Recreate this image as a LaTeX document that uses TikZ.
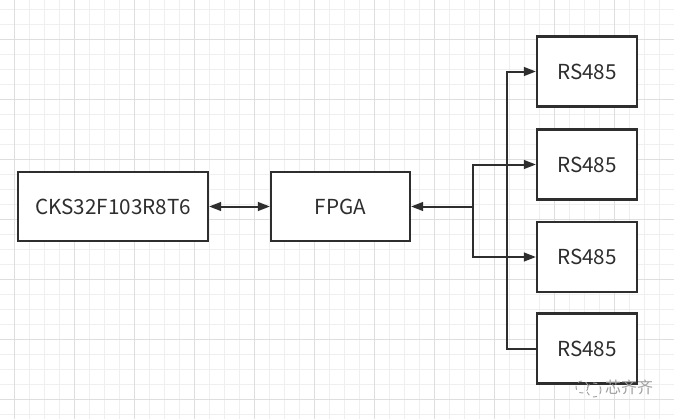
\documentclass[tikz,border=0pt]{standalone}
\usepackage{fontspec}
\setmainfont{Noto Sans CJK SC}
\usepackage{xcolor}
\usepackage{tikz}
\usetikzlibrary{arrows.meta}
\usetikzlibrary{positioning}
\definecolor{inkgray}{HTML}{2E2E2E}
\definecolor{gridminor}{HTML}{EFEFEF}
\definecolor{gridmajor}{HTML}{DEDEDE}
\definecolor{markgray}{HTML}{A0A0A0}
\tikzset{
  blockbox/.style={draw=inkgray,line width=1.6pt,fill=white,text=inkgray,
    minimum height=51.75pt,inner sep=0pt,font=\fontsize{15.5}{18}\selectfont},
  link/.style={draw=inkgray,line width=1.5pt},
  tip/.style={-{Triangle[length=9pt,width=6.5pt]}},
  bothtip/.style={{Triangle[length=9pt,width=6.5pt]}-{Triangle[length=9pt,width=6.5pt]}},
}
\begin{document}
\begin{tikzpicture}[x=0.75pt,y=0.75pt,yscale=-1,xscale=1]
\useasboundingbox (0,0) rectangle (674,419);
\fill[white] (0,0) rectangle (674,419);

%grid
\foreach \gx in {14.3,29.3,...,674} \draw[gridminor,line width=0.75pt] (\gx,0) -- (\gx,419);
\foreach \gy in {9.3,24.3,...,419} \draw[gridminor,line width=0.75pt] (0,\gy) -- (674,\gy);
\foreach \gx in {14.3,74.3,...,674} \draw[gridmajor,line width=0.75pt] (\gx,0) -- (\gx,419);
\foreach \gy in {39.3,99.3,...,419} \draw[gridmajor,line width=0.75pt] (0,\gy) -- (674,\gy);

%blocks
\node[blockbox,minimum width=142.5pt] (cks) at (113,206.5) {CKS32F103R8T6};
\node[blockbox,minimum width=104.25pt] (fpga) at (340.5,206.5) {FPGA};
\node[blockbox,minimum width=75pt,minimum height=52.5pt] (rsa) at (587,71.5) {RS485};
\node[blockbox,minimum width=75pt,minimum height=52.5pt] (rsb) at (587,164.5) {RS485};
\node[blockbox,minimum width=75pt,minimum height=52.5pt] (rsc) at (587,257) {RS485};
\node[blockbox,minimum width=75pt,minimum height=52.5pt] (rsd) at (587,348.5) {RS485};

%links
\coordinate (fork) at (473,206.5);
\coordinate (bend) at (507,348.5);
\draw[link,bothtip] (cks) -- (fpga);
\draw[link,tip] (fork) -- (fpga);
\draw[link,tip] (fork) |- (rsb);
\draw[link,tip] (fork) |- (rsc);
\draw[link,tip] (rsd) -- (bend) |- (rsa);

%watermark
\draw[markgray,dashed,line width=0.7pt] (582,387) circle (6);
\draw[markgray,dashed,line width=0.7pt] (594,390) circle (7);
\node[text=markgray,font=\fontsize{12}{14}\selectfont,inner sep=0pt] (mark) at (629,387) {芯齐齐};

\end{tikzpicture}
\end{document}
